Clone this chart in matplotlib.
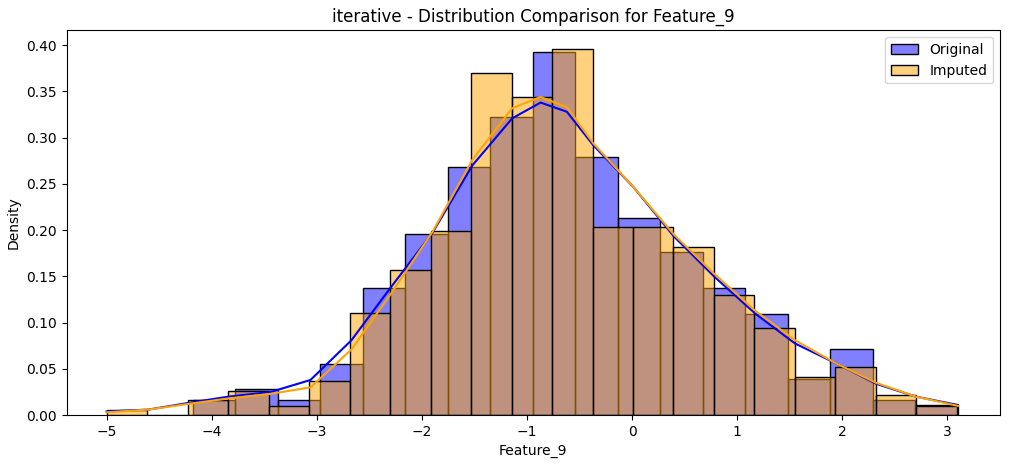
import numpy as np
import matplotlib
import matplotlib.pyplot as plt

matplotlib.use('Agg')

# histogram bins (density)
orig_start, orig_width = -4.18, 0.4044
orig_density = [0.016, 0.028, 0.016, 0.055, 0.137, 0.196, 0.268, 0.322, 0.393,
                0.279, 0.213, 0.176, 0.137, 0.109, 0.039, 0.071, 0.016, 0.011]
imp_start, imp_width = -5.0, 0.3853
imp_density = [0.005, 0.0, 0.016, 0.026, 0.010, 0.037, 0.110, 0.157, 0.199, 0.370,
               0.344, 0.396, 0.203, 0.203, 0.182, 0.130, 0.094, 0.041, 0.052, 0.022, 0.010]

# kde curves
kde_x = [-5.0, -4.6, -4.23, -3.84, -3.44, -3.06, -2.67, -2.29, -1.9, -1.52, -1.14,
         -0.87, -0.62, -0.37, 0.01, 0.40, 0.78, 1.17, 1.55, 1.94, 2.32, 2.70, 3.1]
kde_orig = [0.004, 0.006, 0.013, 0.020, 0.025, 0.038, 0.081, 0.139, 0.197, 0.270, 0.321,
            0.338, 0.328, 0.292, 0.247, 0.193, 0.150, 0.110, 0.0775, 0.056, 0.034, 0.020, 0.011]
kde_imp = [0.003, 0.006, 0.012, 0.018, 0.023, 0.030, 0.071, 0.132, 0.198, 0.276, 0.332,
           0.344, 0.333, 0.294, 0.247, 0.195, 0.153, 0.113, 0.081, 0.056, 0.035, 0.020, 0.010]

fig, ax = plt.subplots(figsize=(10.1, 4.68), dpi=100)
fig.subplots_adjust(left=0.066, right=0.99, top=0.935, bottom=0.113)

ox = orig_start + orig_width * np.arange(len(orig_density))
ix = imp_start + imp_width * np.arange(len(imp_density))
ax.bar(ox, orig_density, width=orig_width, align='edge', facecolor=(0, 0, 1, 0.5),
       edgecolor='black', linewidth=1, label='Original')
ax.bar(ix, imp_density, width=imp_width, align='edge', facecolor=(1, 0.647, 0, 0.5),
       edgecolor='black', linewidth=1, label='Imputed')
ax.plot(kde_x, kde_orig, color='blue', linewidth=1.5)
ax.plot(kde_x, kde_imp, color='orange', linewidth=1.5)

ax.set_xlim(-5.38, 3.5)
ax.set_ylim(0, 0.416)
ax.set_xlabel('Feature_9')
ax.set_ylabel('Density')
ax.set_title('iterative - Distribution Comparison for Feature_9')
ax.legend(loc='upper right')

plt.savefig('out.png')
plt.close()
